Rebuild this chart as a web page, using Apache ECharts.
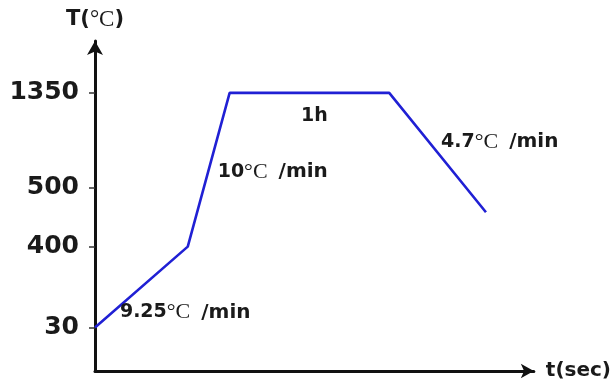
<!DOCTYPE html>
<html>
<head>
<meta charset="utf-8">
<script src="https://cdn.jsdelivr.net/npm/echarts@6/dist/echarts.min.js"></script>
<style>
  html, body { margin: 0; padding: 0; background: #fff; }
  #chart { width: 614px; height: 385px; }
</style>
</head>
<body>
<div id="chart"></div>
<script>
// Heat-treatment profile: ramp, ramp, hold, cool.
const tempTicks = [30, 400, 500, 1350];          // labelled temperatures (°C)
const profileTime = [0, 9.3, 13.5, 29.5, 39.2];  // schematic time axis
const profileTemp = [30, 400, 1350, 1350, 458];  // temperature at each break point

// The temperature axis is drawn schematically (not to scale):
// each labelled temperature sits at its own level on the axis.
const scaleStops = [0.95, 2.71, 4.0, 6.06];
const axisTop = 7.19;
const timeMax = 44;

function levelOf(t) {
  if (t <= tempTicks[0]) return scaleStops[0] * t / tempTicks[0];
  for (let i = 1; i < tempTicks.length; i++) {
    if (t <= tempTicks[i]) {
      const f = (t - tempTicks[i - 1]) / (tempTicks[i] - tempTicks[i - 1]);
      return scaleStops[i - 1] + f * (scaleStops[i] - scaleStops[i - 1]);
    }
  }
  return scaleStops[scaleStops.length - 1];
}

// Rate annotations: text and where they sit (time, temperature).
const notes = [
  { text: ['9.25', '/min'], time: 2.5, temp: 99, align: 'left' },
  { text: ['10', '/min'], time: 12.3, temp: 640, align: 'left' },
  { text: ['1h'], time: 22, temp: 1143, align: 'center' },
  { text: ['4.7', '/min'], time: 34.7, temp: 908, align: 'left' }
];

const ink = '#1a1a1a';
const sans = 'DejaVu Sans';
const serif = 'Liberation Serif';

const richText = {
  b: { fontFamily: sans, fontWeight: 'bold', fontSize: 19, color: ink },
  c: { fontFamily: serif, fontSize: 22, color: ink },
  u: { fontFamily: sans, fontWeight: 'bold', fontSize: 20, color: ink, padding: [0, 0, 0, 11] }
};

function noteLabel(parts) {
  if (parts.length === 1) return '{b|' + parts[0] + '}';
  return '{b|' + parts[0] + '}{c|°C}{u|' + parts[1] + '}';
}

const chart = echarts.init(document.getElementById('chart'), null, { renderer: 'canvas' });

chart.setOption({
  animation: false,
  backgroundColor: '#fff',
  grid: { left: 95, right: 79, top: 41, bottom: 14 },
  xAxis: {
    type: 'value',
    min: 0,
    max: timeMax,
    name: 't(sec)',
    nameLocation: 'end',
    nameGap: 12,
    nameTextStyle: { fontFamily: sans, fontWeight: 'bold', fontSize: 20, color: ink },
    axisLine: {
      show: true,
      symbol: ['none', 'arrow'],
      symbolSize: [11, 13],
      lineStyle: { color: '#111', width: 3 }
    },
    axisTick: { show: false },
    axisLabel: { show: false },
    splitLine: { show: false }
  },
  yAxis: {
    type: 'value',
    min: 0,
    max: axisTop,
    name: '{s|T(}{c|°C}{s|)}',
    nameLocation: 'end',
    nameGap: 10,
    nameTextStyle: {
      rich: {
        s: { fontFamily: sans, fontWeight: 'bold', fontSize: 21, color: ink },
        c: { fontFamily: serif, fontSize: 23, color: ink }
      }
    },
    axisLine: {
      show: true,
      onZero: false,
      symbol: ['none', 'arrow'],
      symbolSize: [12, 14],
      lineStyle: { color: '#111', width: 3 }
    },
    axisTick: {
      show: true,
      customValues: scaleStops,
      length: 6,
      lineStyle: { color: '#333', width: 1.5 }
    },
    axisLabel: {
      customValues: scaleStops,
      margin: 16,
      fontFamily: sans,
      fontWeight: 'bold',
      fontSize: 25,
      color: ink,
      formatter: function (v) {
        let best = 0;
        scaleStops.forEach(function (s, i) {
          if (Math.abs(s - v) < Math.abs(scaleStops[best] - v)) best = i;
        });
        return String(tempTicks[best]);
      }
    },
    splitLine: { show: false }
  },
  series: [
    {
      type: 'line',
      data: profileTime.map(function (t, i) { return [t, levelOf(profileTemp[i])]; }),
      showSymbol: false,
      lineStyle: { color: '#2020d4', width: 2.6 },
      z: 3
    },
    {
      type: 'scatter',
      silent: true,
      symbolSize: 0,
      itemStyle: { opacity: 1 },
      data: notes.map(function (n) {
        return {
          value: [n.time, levelOf(n.temp)],
          label: {
            show: true,
            position: 'inside',
            align: n.align,
            verticalAlign: 'middle',
            color: ink,
            opacity: 1,
            formatter: noteLabel(n.text),
            rich: richText
          }
        };
      }),
      z: 4
    }
  ]
});
</script>
</body>
</html>
